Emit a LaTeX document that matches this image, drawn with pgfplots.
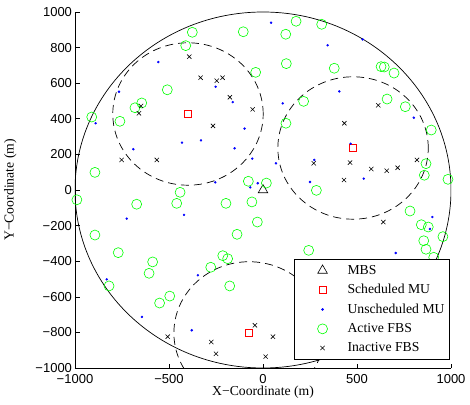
\documentclass[border=0pt]{standalone}
\usepackage{pgfplots}
\pgfplotsset{compat=1.18}
\usepackage{fontspec}
\setmainfont{Liberation Serif}
\newfontfamily\ticksf{Liberation Sans}

\pgfplotsset{
    wideleg/.style={
        legend image code/.code={
            \path[draw=none, fill=none] (0pt,-2pt) rectangle (48pt,2pt);
            \draw[##1, only marks] plot coordinates {(25pt,0pt)};
        },
    },
}

\begin{document}
\begin{tikzpicture}
\begin{axis}[
    scale only axis,
    width=376pt, height=356pt,
    xmin=-1000, xmax=1000,
    ymin=-1000, ymax=1000,
    xtick={-1000,-500,0,500,1000},
    xticklabels={−1000,−500,0,500,1000},
    ytick={-1000,-800,...,1000},
    yticklabels={−1000,−800,−600,−400,−200,0,200,400,600,800,1000},
    axis x line*=bottom, axis y line*=left,
    axis line style={-, line width=0.6pt},
    tick align=inside,
    major tick length=4.5pt,
    tick style={line width=0.6pt, black},
    tick label style={font=\ticksf\fontsize{13}{14}\selectfont},
    xticklabel style={yshift=-2.5pt},
    yticklabel style={xshift=0.5pt},
    xlabel={X−Coordinate (m)},
    ylabel={Y−Coordinate (m)},
    label style={font=\fontsize{13.7}{15}\selectfont},
    xlabel style={at={(axis description cs:0.5,-0.068)}, anchor=center},
    ylabel style={at={(axis description cs:-0.172,0.5)}, anchor=center},
    legend style={
        at={(rel axis cs:0.997,0.025)}, anchor=south east,
        font=\fontsize{13.7}{15}\selectfont,
        draw=black, line width=0.6pt, fill=white,
        cells={anchor=west},
        row sep=4.6pt,
        inner xsep=3pt, inner ysep=3.5pt,
    },
]
% MBS
\addplot[only marks, wideleg, mark=triangle, mark size=5.5pt, black, line width=0.6pt] coordinates {(0,0)};
\addlegendentry{MBS}
% scheduled MU
\addplot[only marks, wideleg, mark=square, mark size=3.5pt, red, line width=0.6pt] coordinates {
    (-399,427) (479,236) (-74,-803)
};
\addlegendentry{Scheduled MU}
% unscheduled MU
\addplot[only marks, wideleg, mark=*, mark size=1pt, blue, draw=blue] coordinates {
    (-557,719) (-766,552) (-252,580) (-161,494) (-890,375) (-98,345) (-431,266)
    (-330,279) (-690,229) (-151,234) (-57,176) (-254,43) (-28,38) (-68,15)
    (43,940) (344,813) (530,846) (406,554) (105,487) (802,406) (466,260)
    (273,169) (69,150) (250,45) (536,64)
    (-420,-140) (-725,-161) (-831,-502) (-346,-479) (-644,-713) (-379,-788)
    (901,-152) (888,-219) (706,-354)
};
\addlegendentry{Unscheduled MU}
% active FBS
\addplot[only marks, wideleg, mark=o, mark size=5pt, green, line width=0.6pt] coordinates {
    (-376,886) (-105,889) (-411,811) (-39,661) (-509,563) (-645,489) (-681,462)
    (-911,410) (-761,386) (-894,99) (-78,49) (-441,-13) (-990,-55)
    (176,948) (312,931) (121,875) (124,710) (379,684) (628,693) (645,691)
    (697,657) (216,498) (660,511) (757,468) (122,375) (895,337) (867,148)
    (858,83) (984,60) (284,-2) (18,39)
    (-672,-80) (-459,-75) (-197,-75) (-59,-67) (-30,-180) (-894,-253)
    (-770,-352) (-138,-249) (-587,-404) (-606,-468) (-214,-369) (-188,-386)
    (-278,-434) (-819,-539) (-177,-539) (-496,-596) (-550,-635)
    (782,-118) (842,-195) (879,-208) (957,-262) (855,-285) (867,-333)
    (243,-339) (908,-378)
};
\addlegendentry{Active FBS}
% inactive FBS
\addplot[only marks, wideleg, mark=x, mark size=3pt, black, line width=0.6pt] coordinates {
    (-392,749) (-332,631) (-246,614) (-215,631) (-176,521) (-55,453) (-649,472)
    (-660,431) (-266,360) (-752,169) (-565,169)
    (613,476) (433,375) (270,150) (463,154) (576,118) (658,108) (716,125)
    (819,169) (431,56)
    (-507,-824) (-275,-854) (-250,-920) (-43,-760) (640,-180) (53,-824) (14,-936)
};
\addlegendentry{Inactive FBS}
% coverage circles
\draw[line width=0.7pt] (axis cs:0,0) ellipse [x radius=1000, y radius=1000];
\draw[line width=0.7pt, dash pattern=on 8pt off 5pt] (axis cs:-399,427) ellipse [x radius=400, y radius=400];
\draw[line width=0.7pt, dash pattern=on 8pt off 5pt] (axis cs:479,236) ellipse [x radius=400, y radius=400];
\draw[line width=0.7pt, dash pattern=on 8pt off 5pt] (axis cs:-74,-803) ellipse [x radius=400, y radius=400];
\end{axis}
% margins as in the reference
\path ([xshift=-75pt,yshift=12pt]current axis.north west);
\path ([xshift=19pt,yshift=-36pt]current axis.south east);
\end{tikzpicture}
\end{document}
